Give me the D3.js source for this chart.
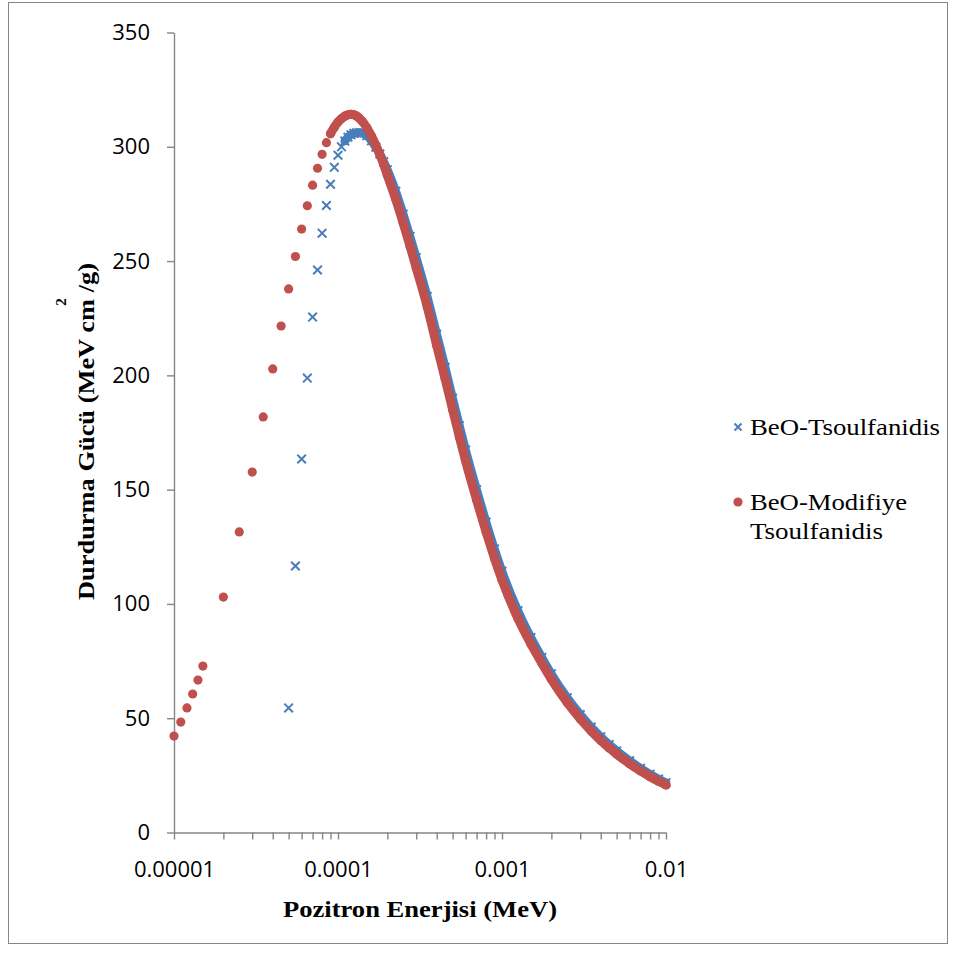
<!DOCTYPE html>
<html>
<head>
<meta charset="utf-8">
<script src="https://cdn.jsdelivr.net/npm/d3@7"></script>
<style>
  html, body { margin: 0; padding: 0; background: #fff; }
  svg { display: block; }
</style>
</head>
<body>
<svg id="chart" width="958" height="955"></svg>
<script>
// Positron energy (MeV) and stopping power (MeV cm2/g) for BeO
const redEnergy = [
  1e-5, 1.1e-5, 1.2e-5, 1.3e-5, 1.4e-5, 1.5e-5, 2e-5, 2.5e-5, 3e-5, 3.5e-5, 4e-5, 4.5e-5,
  5e-5, 5.5e-5, 6e-5, 6.5e-5, 7e-5, 7.5e-5, 8e-5, 8.5e-5, 9e-5, 9.5e-5, 1e-4, 1.05e-4,
  1.1e-4, 1.15e-4, 1.2e-4, 1.25e-4, 1.3e-4, 1.35e-4, 1.4e-4, 1.5e-4, 1.6e-4, 1.7e-4, 1.8e-4,
  1.9e-4, 2e-4, 2.25e-4, 2.5e-4, 2.75e-4, 3e-4, 3.5e-4, 4e-4, 4.5e-4, 5e-4, 5.5e-4, 6e-4,
  7e-4, 8e-4, 9e-4, 1e-3, 1.25e-3, 1.5e-3, 1.75e-3, 2e-3, 2.5e-3, 3e-3, 3.5e-3, 4e-3,
  4.5e-3, 5e-3, 6e-3, 7e-3, 8e-3, 9e-3, 1e-2
];
const redValues = [
  42.2, 48.3, 54.5, 60.6, 66.7, 72.8, 103.0, 131.5, 157.7, 181.8, 202.8, 221.6,
  237.8, 252.0, 264.0, 274.2, 283.2, 290.6, 296.7, 301.8, 305.7, 308.6, 310.8, 312.3,
  313.4, 314.0, 314.2, 314.0, 313.4, 312.5, 311.3, 308.3, 304.7, 300.7, 296.5,
  292.2, 287.5, 277.0, 266.5, 256.5, 247.0, 230.0, 213.0, 198.5, 185.0, 173.0, 162.5,
  145.5, 131.5, 120.0, 110.5, 93.7, 82.5, 74.0, 67.0, 56.8, 49.7, 44.4, 40.3,
  37.0, 34.3, 30.1, 26.9, 24.4, 22.4, 20.8
];
const blueEnergy = [
  5e-5, 5.5e-5, 6e-5, 6.5e-5, 7e-5, 7.5e-5, 8e-5, 8.5e-5, 9e-5, 9.5e-5, 1e-4, 1.05e-4,
  1.1e-4, 1.15e-4, 1.2e-4, 1.25e-4, 1.3e-4, 1.35e-4, 1.4e-4, 1.5e-4, 1.6e-4, 1.7e-4, 1.8e-4,
  1.9e-4, 2e-4, 2.25e-4, 2.5e-4, 2.75e-4, 3e-4, 3.5e-4, 4e-4, 4.5e-4, 5e-4, 5.5e-4, 6e-4,
  7e-4, 8e-4, 9e-4, 1e-3, 1.25e-3, 1.5e-3, 1.75e-3, 2e-3, 2.5e-3, 3e-3, 3.5e-3, 4e-3,
  4.5e-3, 5e-3, 6e-3, 7e-3, 8e-3, 9e-3, 1e-2
];
const blueValues = [
  54.5, 116.6, 163.4, 198.8, 225.5, 246.1, 262.2, 274.3, 283.6, 291.0, 296.3, 300.0,
  302.5, 304.2, 305.3, 305.9, 306.1, 306.2, 306.0, 304.8, 302.6, 299.8, 296.8,
  293.5, 290.0, 280.5, 270.5, 260.8, 251.5, 234.5, 218.0, 203.5, 190.0, 178.0, 167.3,
  150.0, 135.8, 124.0, 114.3, 97.0, 85.3, 76.6, 69.4, 58.9, 51.6, 46.1, 41.9,
  38.5, 35.7, 31.4, 28.1, 25.5, 23.4, 21.8
];
const seriesNames = ["BeO-Tsoulfanidis", "BeO-Modifiye Tsoulfanidis"];
const yTicks = [0, 50, 100, 150, 200, 250, 300, 350];
const xMajorTicks = [1e-5, 1e-4, 1e-3, 1e-2];
const xTickLabels = ["0.00001", "0.0001", "0.001", "0.01"];
const xTitle = "Pozitron Enerjisi (MeV)";
const yTitle = "Durdurma Gücü (MeV cm /g)";

const BLUE = "#4a7ebb";
const RED = "#c0504d";
const AXIS = "#868686";
const SANS = "'Open Sans', 'Liberation Sans', sans-serif";
const SERIF = "'Liberation Serif', 'Times New Roman', serif";

const svg = d3.select("#chart");

// outer chart frame
svg.append("rect")
  .attr("x", 8.5).attr("y", 2.5).attr("width", 939).attr("height", 941)
  .attr("fill", "#fff").attr("stroke", AXIS).attr("stroke-width", 1);

const x = d3.scaleLog().domain([1e-5, 1e-2]).range([174, 666]);
const y = d3.scaleLinear().domain([0, 350]).range([832.5, 32.5]);

// minor + major log ticks
const xAllTicks = [];
xMajorTicks.slice(0, -1).forEach(d => { for (let k = 1; k < 10; k++) xAllTicks.push(d * k); });
xAllTicks.push(1e-2);
const labelOf = new Map(xMajorTicks.map((d, i) => [d, xTickLabels[i]]));

const xAxis = svg.append("g")
  .attr("transform", `translate(0,${y(0)})`)
  .call(d3.axisBottom(x).tickValues(xAllTicks).tickSize(7).tickSizeOuter(0).tickPadding(22)
    .tickFormat(d => {
      const m = xMajorTicks.find(t => Math.abs(t - d) / t < 1e-6);
      return m !== undefined ? labelOf.get(m) : "";
    }));

const yAxis = svg.append("g")
  .attr("transform", `translate(${x(1e-5)},0)`)
  .call(d3.axisLeft(y).tickValues(yTicks).tickSize(7).tickSizeOuter(0).tickPadding(17)
    .tickFormat(d3.format("d")));

[xAxis, yAxis].forEach(g => {
  g.select(".domain").attr("stroke", AXIS).attr("stroke-width", 1.4);
  g.selectAll(".tick line").attr("stroke", AXIS).attr("stroke-width", 1.4);
  g.selectAll(".tick text").attr("fill", "#000").style("font-family", SANS).style("font-size", "22px");
});

// series data
const blueData = blueEnergy.map((e, i) => ({ e, v: blueValues[i] }));
const redData = redEnergy.map((e, i) => ({ e, v: redValues[i] }));

const line = d3.line().x(d => x(d.e)).y(d => y(d.v)).curve(d3.curveMonotoneX);

// dense part of each series, where markers overlap into a band
svg.append("path")
  .datum(blueData.filter(d => d.e >= 1.1e-4))
  .attr("d", line).attr("fill", "none").attr("stroke", BLUE)
  .attr("stroke-width", 8.6).attr("stroke-linecap", "round").attr("stroke-linejoin", "round");

const xMark = "M-4.3,-4.3L4.3,4.3M4.3,-4.3L-4.3,4.3";
svg.append("g").selectAll("path").data(blueData).join("path")
  .attr("transform", d => `translate(${x(d.e)},${y(d.v)})`)
  .attr("d", xMark).attr("fill", "none").attr("stroke", BLUE).attr("stroke-width", 2);

svg.append("path")
  .datum(redData.filter(d => d.e >= 9e-5))
  .attr("d", line).attr("fill", "none").attr("stroke", RED)
  .attr("stroke-width", 9).attr("stroke-linecap", "round").attr("stroke-linejoin", "round");

svg.append("g").selectAll("circle").data(redData).join("circle")
  .attr("cx", d => x(d.e)).attr("cy", d => y(d.v)).attr("r", 4.6).attr("fill", RED);

// axis titles
svg.append("text")
  .attr("x", 420).attr("y", 917).attr("text-anchor", "middle")
  .attr("textLength", 274).attr("lengthAdjust", "spacingAndGlyphs")
  .style("font-family", SERIF).style("font-weight", "bold").style("font-size", "23px")
  .text(xTitle);

svg.append("text")
  .attr("transform", "translate(94,431.5) rotate(-90)").attr("text-anchor", "middle")
  .attr("textLength", 337).attr("lengthAdjust", "spacingAndGlyphs")
  .style("font-family", SERIF).style("font-weight", "bold").style("font-size", "23px")
  .text(yTitle);

svg.append("text")
  .attr("transform", "translate(66,302) rotate(-90)").attr("text-anchor", "middle")
  .style("font-family", SERIF).style("font-weight", "bold").style("font-size", "15px")
  .text("2");

// legend
const legend = svg.append("g");
legend.append("path").attr("transform", "translate(738,427)")
  .attr("d", "M-3.5,-3.5L3.5,3.5M3.5,-3.5L-3.5,3.5")
  .attr("stroke", BLUE).attr("stroke-width", 2).attr("fill", "none");
legend.append("text").attr("x", 750).attr("y", 435)
  .attr("textLength", 190).attr("lengthAdjust", "spacingAndGlyphs")
  .style("font-family", SERIF).style("font-size", "23px").text(seriesNames[0]);

legend.append("circle").attr("cx", 738).attr("cy", 502).attr("r", 4.6).attr("fill", RED);
const nameParts = ["BeO-Modifiye", "Tsoulfanidis"];
const partLengths = [157, 133];
nameParts.forEach((t, i) => {
  legend.append("text").attr("x", 750).attr("y", 510 + i * 28.5)
    .attr("textLength", partLengths[i]).attr("lengthAdjust", "spacingAndGlyphs")
    .style("font-family", SERIF).style("font-size", "23px").text(t);
});
</script>
</body>
</html>
